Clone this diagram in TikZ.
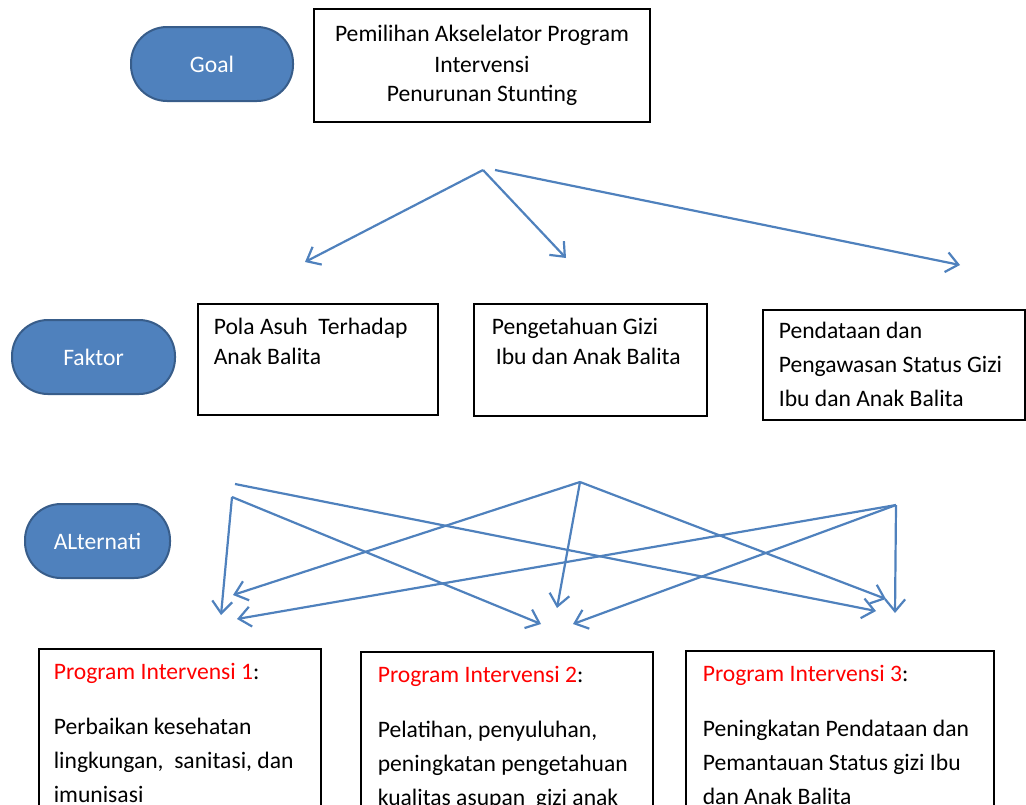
\documentclass[tikz,border=0pt]{standalone}
\usepackage{fontspec}
\setmainfont{Carlito}
\usepackage{xcolor}
\usepackage{tikz}
\usetikzlibrary{arrows.meta}
\definecolor{pillblue}{HTML}{4F81BD}
\definecolor{pilledge}{HTML}{385D8A}
\definecolor{linkblue}{HTML}{4F81BD}

\begin{document}
\begin{tikzpicture}[
  x=0.5pt, y=-0.5pt,
  font=\fontsize{11.8pt}{14.5pt}\selectfont,
  pill/.style={draw=pilledge, line width=1pt, fill=pillblue, text=white, rounded corners=18pt, minimum height=37pt},
  gbox/.style={draw, line width=0.8pt, align=center, minimum width=168pt, minimum height=56.5pt},
  fbox/.style={draw, line width=0.8pt, anchor=north west, inner xsep=8pt, inner ysep=7pt, font=\fontsize{11.8pt}{15pt}\selectfont},
  pbox/.style={draw, line width=0.8pt, anchor=north west, inner xsep=8pt, inner ysep=7pt, font=\fontsize{11.8pt}{17pt}\selectfont},
  link/.style={linkblue, line width=1.1pt, -{Straight Barb[length=6pt,width=10pt]}}
]
\useasboundingbox (0,0) rectangle (1026,804);
\clip (0,0) rectangle (1026,804);

% Goal
\node[pill, minimum width=81pt] (goal) at (212,64) {Goal};
\node[gbox] (G) at (482,65.5) {\raisebox{1pt}{Pemilihan Akselelator Program}\\Intervensi\\Penurunan Stunting};

% Faktor
\node[pill, minimum width=81.5pt] (faktor) at (93.5,357) {Faktor};
\node[fbox] (F1) at (197,303) {\parbox[t][41.5pt][t]{104pt}{Pola Asuh\ \ Terhadap\\Anak Balita}};
\node[fbox, inner xsep=9pt] (F2) at (473,303) {\parbox[t][42pt][t]{98.5pt}{Pengetahuan Gizi\\\hspace*{2pt}Ibu dan Anak Balita}};
\node[fbox, font=\fontsize{11.8pt}{17pt}\selectfont, inner ysep=6pt] (F3) at (762,309) {\parbox[t][43pt][t]{115pt}{Pendataan dan\\Pengawasan Status Gizi\\Ibu dan Anak Balita}};

% Alternatif
\node[pill, minimum width=72.5pt] (alt) at (97.5,541) {ALternati};
\node[pbox, inner xsep=7.5pt] (P1) at (38,648) {\parbox[t][112pt][t]{126pt}{\textcolor{red}{Program Intervensi 1}:\\[10.5pt]Perbaikan kesehatan\\lingkungan,\ \ sanitasi, dan\\imunisasi}};
\node[pbox, inner xsep=8.5pt] (P2) at (360,651) {\parbox[t][112pt][t]{129pt}{\textcolor{red}{Program Intervensi 2}:\\[10.5pt]Pelatihan, penyuluhan,\\peningkatan pengetahuan\\kualitas asupan\ \ gizi anak}};
\node[pbox, inner xsep=8.5pt] (P3) at (685,650) {\parbox[t][112pt][t]{137pt}{\textcolor{red}{Program Intervensi 3}:\\[10.5pt]Peningkatan Pendataan dan\\Pemantauan Status gizi Ibu\\dan Anak Balita}};

% Goal -> faktor
\coordinate (gtop) at (483,170);
\coordinate (gtop2) at (495,170);
\coordinate (f1a) at (305,262);
\coordinate (f2a) at (566,258);
\coordinate (f3a) at (960,265);
\draw[link] (gtop) -- (f1a);
\draw[link] (gtop) -- (f2a);
\draw[link] (gtop2) -- (f3a);

% Faktor -> alternatif
\coordinate (s1a) at (235,484);
\coordinate (s1b) at (232,497);
\coordinate (s2) at (580,482);
\coordinate (s3) at (896,505);
\coordinate (a1x) at (221,615);
\coordinate (a1y) at (233,595);
\coordinate (a1z) at (237,619);
\coordinate (a2x) at (541,624);
\coordinate (a2y) at (557,608);
\coordinate (a2z) at (573,624);
\coordinate (a3x) at (876,611);
\coordinate (a3y) at (886,599);
\coordinate (a3z) at (895,613);
\draw[link] (s1b) -- (a1x);
\draw[link] (s1b) -- (a2x);
\draw[link] (s1a) -- (a3x);
\draw[link] (s2) -- (a1y);
\draw[link] (s2) -- (a2y);
\draw[link] (s2) -- (a3y);
\draw[link] (s3) -- (a1z);
\draw[link] (s3) -- (a2z);
\draw[link] (s3) -- (a3z);

\end{tikzpicture}
\end{document}
